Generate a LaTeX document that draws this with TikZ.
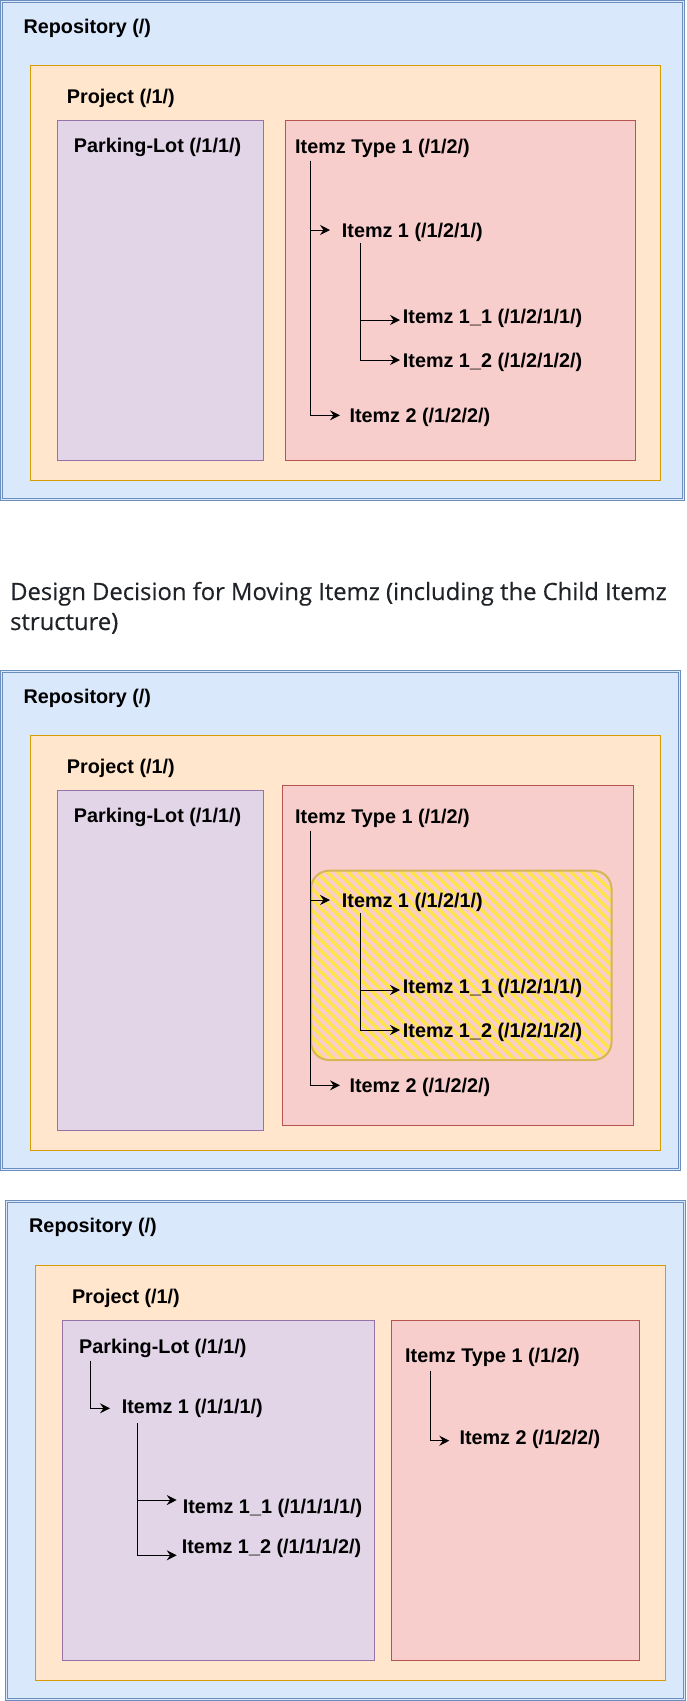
\documentclass[tikz,border=0pt]{standalone}
\usepackage{fontspec}
\setmainfont{Liberation Sans}
\newfontfamily\titlefont[FakeBold=0.35]{Open Sans}
\usetikzlibrary{arrows.meta,patterns.meta}
\definecolor{repofill}{HTML}{DAE8FC}
\definecolor{repodraw}{HTML}{6C8EBF}
\definecolor{projfill}{HTML}{FFE6CC}
\definecolor{projdraw}{HTML}{D79B00}
\definecolor{parkfill}{HTML}{E1D5E7}
\definecolor{parkdraw}{HTML}{9673A6}
\definecolor{typefill}{HTML}{F8CECC}
\definecolor{typedraw}{HTML}{B85450}
\definecolor{hatchyellow}{HTML}{FFE54A}
\definecolor{hatchdraw}{HTML}{D6B656}
\definecolor{titlecol}{HTML}{1F2328}
\newcommand\dblbox[4]{%
  \fill[repofill] (#1,#2) rectangle (#3,#4);
  \draw[repodraw,line width=1pt] (#1,#2) rectangle (#3,#4);
  \draw[repodraw,line width=1pt] (#1+2,#2+2) rectangle (#3-2,#4-2);}
\begin{document}
\begin{tikzpicture}[x=1pt,y=-1pt,
  lbl/.style={anchor=base west,inner sep=0pt,font=\fontsize{19.8pt}{23pt}\selectfont\bfseries},
  ttl/.style={anchor=base west,inner sep=0pt,text=titlecol,font=\fontsize{23.8pt}{28pt}\titlefont},
  projbox/.style={fill=projfill,draw=projdraw,line width=1pt},
  parkbox/.style={fill=parkfill,draw=parkdraw,line width=1pt},
  typebox/.style={fill=typefill,draw=typedraw,line width=1pt},
  conn/.style={draw=black,line width=1pt,-{Stealth[length=10pt,width=10pt,inset=3.5pt]}},
  selbox/.style={draw=hatchdraw,line width=2pt,rounded corners=18pt,inner sep=0pt,
    pattern={Lines[angle=-45,distance=7.5pt,line width=3.4pt]},pattern color=hatchyellow}]
\useasboundingbox (0,0) rectangle (686,1701);

% ---------------- Panel 1 ----------------
\dblbox{0.7}{0.7}{684.3}{500.7}
\draw[projbox] (30.7,65.7) rectangle (660.7,480.3);
\draw[parkbox] (57.7,120.7) rectangle (263.3,460.3);
\draw[typebox] (285.3,120.7) rectangle (635.7,460.3);
\node[lbl] (r1) at (23.3,33.3) {Repository (/)};
\node[lbl] (p1) at (66.7,103) {Project (/1/)};
\node[lbl] (k1) at (73.7,152.7) {Parking-Lot (/1/1/)};
\node[lbl] (a1) at (295,153.3) {Itemz Type 1 (/1/2/)};
\node[lbl] (a2) at (341.7,237.7) {Itemz 1 (/1/2/1/)};
\node[lbl] (a3) at (402.7,323.3) {Itemz 1\_1 (/1/2/1/1/)};
\node[lbl] (a4) at (402.7,367.7) {Itemz 1\_2 (/1/2/1/2/)};
\node[lbl] (a5) at (349.3,422.7) {Itemz 2 (/1/2/2/)};
\draw[conn] ([xshift=15.7pt,yshift=-7.4pt]a1.base west) |- ([xshift=-11.7pt,yshift=7.7pt]a2.base west);
\draw[conn] ([xshift=15.7pt,yshift=-7.4pt]a1.base west) |- ([xshift=-9.3pt,yshift=7.4pt]a5.base west);
\draw[conn] ([xshift=19pt,yshift=-5.6pt]a2.base west) |- ([xshift=-2.7pt,yshift=3.3pt]a3.base west);
\draw[conn] ([xshift=19pt,yshift=-5.6pt]a2.base west) |- ([xshift=-2.7pt,yshift=7.7pt]a4.base west);

% ---------------- Title ----------------
\node[ttl] (t1) at (10,600) {Design Decision for Moving Itemz (including the Child Itemz};
\node[ttl] (t2) at (10,630) {structure)};

% ---------------- Panel 2 ----------------
\dblbox{0.7}{670.7}{680.5}{1170.3}
\draw[projbox] (30.7,735.7) rectangle (660.7,1150.3);
\draw[parkbox] (57.7,790.3) rectangle (263.3,1130.3);
\draw[typebox] (282.7,785.3) rectangle (633.3,1125.7);
\node[selbox,minimum width=300.5pt,minimum height=189.3pt] (sel) at (461.25,965.35) {};
\node[lbl] (r2) at (23.3,703.3) {Repository (/)};
\node[lbl] (p2) at (66.7,773) {Project (/1/)};
\node[lbl] (k2) at (73.7,822.7) {Parking-Lot (/1/1/)};
\node[lbl] (b1) at (295,823.3) {Itemz Type 1 (/1/2/)};
\node[lbl] (b2) at (341.7,907.7) {Itemz 1 (/1/2/1/)};
\node[lbl] (b3) at (402.7,993.3) {Itemz 1\_1 (/1/2/1/1/)};
\node[lbl] (b4) at (402.7,1037.7) {Itemz 1\_2 (/1/2/1/2/)};
\node[lbl] (b5) at (349.3,1092.7) {Itemz 2 (/1/2/2/)};
\draw[conn] ([xshift=15.7pt,yshift=-7.4pt]b1.base west) |- ([xshift=-11.7pt,yshift=7.7pt]b2.base west);
\draw[conn] ([xshift=15.7pt,yshift=-7.4pt]b1.base west) |- ([xshift=-9.3pt,yshift=7.4pt]b5.base west);
\draw[conn] ([xshift=19pt,yshift=-5.6pt]b2.base west) |- ([xshift=-2.7pt,yshift=3.3pt]b3.base west);
\draw[conn] ([xshift=19pt,yshift=-5.6pt]b2.base west) |- ([xshift=-2.7pt,yshift=7.7pt]b4.base west);

% ---------------- Panel 3 ----------------
\dblbox{5.3}{1200.3}{685.5}{1700.5}
\draw[projbox] (35.2,1265.7) rectangle (665.7,1680.3);
\draw[parkbox] (62.7,1320.7) rectangle (374.5,1660.3);
\draw[typebox] (391.5,1320.3) rectangle (639.3,1660.3);
\node[lbl] (r3) at (29,1232.7) {Repository (/)};
\node[lbl] (p3) at (71.8,1303.3) {Project (/1/)};
\node[lbl] (c1) at (79,1353.3) {Parking-Lot (/1/1/)};
\node[lbl] (c2) at (121.7,1413.3) {Itemz 1 (/1/1/1/)};
\node[lbl] (c3) at (182.7,1513.3) {Itemz 1\_1 (/1/1/1/1/)};
\node[lbl] (c4) at (181.7,1553.3) {Itemz 1\_2 (/1/1/1/2/)};
\node[lbl] (c5) at (405,1362.3) {Itemz Type 1 (/1/2/)};
\node[lbl] (c6) at (459.3,1444) {Itemz 2 (/1/2/2/)};
\draw[conn] ([xshift=11.7pt,yshift=-7.4pt]c1.base west) |- ([xshift=-11.7pt,yshift=5pt]c2.base west);
\draw[conn] ([xshift=16pt,yshift=-10pt]c2.base west) |- ([xshift=-6pt,yshift=13.3pt]c3.base west);
\draw[conn] ([xshift=16pt,yshift=-10pt]c2.base west) |- ([xshift=-5pt,yshift=-2pt]c4.base west);
\draw[conn] ([xshift=25.3pt,yshift=-8.4pt]c5.base west) |- ([xshift=-10pt,yshift=3.3pt]c6.base west);
\end{tikzpicture}
\end{document}
